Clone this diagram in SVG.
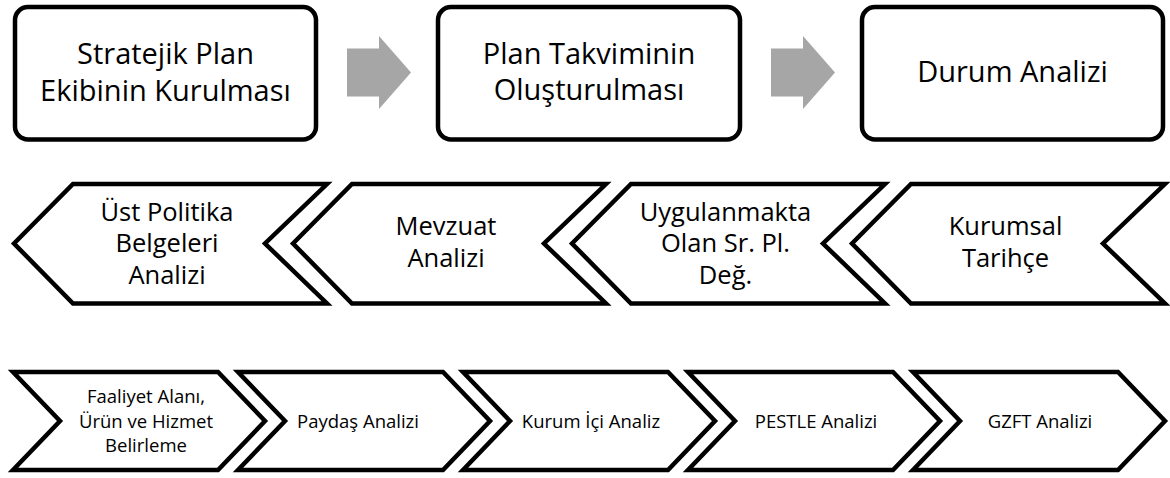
<svg xmlns="http://www.w3.org/2000/svg" width="1170" height="478" viewBox="0 0 1170 478">
<style>
.box{fill:#fff;stroke:#000;stroke-width:4.5}
.chev{fill:#fff;stroke:#000;stroke-width:4.5;stroke-linejoin:miter}
.arr{fill:#a6a6a6;stroke:none}
text{font-family:"Open Sans","Noto Sans","Liberation Sans",sans-serif;fill:#000;text-anchor:middle}
.t1{font-size:29px}
.t2{font-size:25.5px}
.t3{font-size:18.5px}
</style>
<rect width="1170" height="478" fill="#fff"/>
<g id="connectors">
<polygon class="arr" points="347,48.5 379,48.5 379,36 411,72.5 379,109 379,96.5 347,96.5"/>
<polygon class="arr" points="771,48.5 803,48.5 803,36 835,72.5 803,109 803,96.5 771,96.5"/>
</g>
<g id="n-stratejik">
<rect class="box" x="15" y="7" width="301" height="132.5" rx="13"/>
<text class="t1"><tspan x="165.5" y="64">Stratejik Plan</tspan><tspan x="165.5" y="100.5">Ekibinin Kurulması</tspan></text>
</g>
<g id="n-takvim">
<rect class="box" x="438" y="7" width="302" height="132.5" rx="13"/>
<text class="t1"><tspan x="589" y="63.5">Plan Takviminin</tspan><tspan x="589" y="100">Oluşturulması</tspan></text>
</g>
<g id="n-durum">
<rect class="box" x="862" y="7" width="301" height="132.5" rx="13"/>
<text class="t1" x="1012.5" y="82">Durum Analizi</text>
</g>
<g id="n-ustpolitika">
<polygon class="chev" points="14,243.5 73,184 327,184 265,243.5 327,303.5 73,303.5"/>
<text class="t2"><tspan x="167" y="220.5">Üst Politika</tspan><tspan x="167" y="252">Belgeleri</tspan><tspan x="167" y="283.5">Analizi</tspan></text>
</g>
<g id="n-mevzuat">
<polygon class="chev" points="293,243.5 352,184 606,184 544,243.5 606,303.5 352,303.5"/>
<text class="t2"><tspan x="446" y="235">Mevzuat</tspan><tspan x="446" y="266.5">Analizi</tspan></text>
</g>
<g id="n-uygulanmakta">
<polygon class="chev" points="572,243.5 631,184 885,184 823,243.5 885,303.5 631,303.5"/>
<text class="t2"><tspan x="725.5" y="220.5">Uygulanmakta</tspan><tspan x="725.5" y="252">Olan Sr. Pl.</tspan><tspan x="725.5" y="283.5">Değ.</tspan></text>
</g>
<g id="n-kurumsal">
<polygon class="chev" points="852,243.5 911,184 1165,184 1103,243.5 1165,303.5 911,303.5"/>
<text class="t2"><tspan x="1005.5" y="235">Kurumsal</tspan><tspan x="1005.5" y="266.5">Tarihçe</tspan></text>
</g>
<g id="n-faaliyet">
<polygon class="chev" points="13,372 218,372 265,421 218,470 13,470 60,421"/>
<text class="t3"><tspan x="146" y="403">Faaliyet Alanı,</tspan><tspan x="146" y="427.5">Ürün ve Hizmet</tspan><tspan x="146" y="452">Belirleme</tspan></text>
</g>
<g id="n-paydas">
<polygon class="chev" points="238,372 443,372 490,421 443,470 238,470 285,421"/>
<text class="t3" x="358" y="427.5">Paydaş Analizi</text>
</g>
<g id="n-kurumici">
<polygon class="chev" points="463,372 668,372 715,421 668,470 463,470 510,421"/>
<text class="t3" x="591" y="427.5">Kurum İçi Analiz</text>
</g>
<g id="n-pestle">
<polygon class="chev" points="688,372 893,372 940,421 893,470 688,470 735,421"/>
<text class="t3" x="816" y="427.5">PESTLE Analizi</text>
</g>
<g id="n-gzft">
<polygon class="chev" points="913,372 1118,372 1165,421 1118,470 913,470 960,421"/>
<text class="t3" x="1040" y="427.5">GZFT Analizi</text>
</g>
</svg>
